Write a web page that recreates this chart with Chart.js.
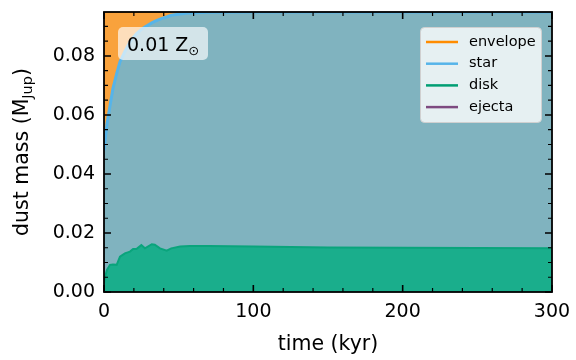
<!DOCTYPE html>
<html>
<head>
<meta charset="utf-8">
<script src="https://cdn.jsdelivr.net/npm/chart.js@4"></script>
<style>
  body { margin: 0; background: #fff; }
</style>
</head>
<body>
<canvas id="massChart" width="576" height="360"></canvas>
<script>
// time grid (kyr) and the dust mass per component (M_Jup)
const times    = [0, 0.7, 2, 4, 6, 8.5, 10.7, 14, 17.4, 19.5, 21.7, 25, 27.4, 32, 34, 37.5, 42, 45, 51, 57.5, 70, 100, 150, 200, 250, 300];
const diskMass = [0.0030, 0.0052, 0.0075, 0.0092, 0.0093, 0.0092, 0.0120, 0.0131, 0.0137, 0.0146, 0.0146, 0.0159, 0.0148, 0.0162, 0.0160, 0.0148, 0.0140, 0.0148, 0.0154, 0.0156, 0.0156, 0.0154, 0.0151, 0.0150, 0.0149, 0.0148];
const starMass = [0.0450, 0.0458, 0.0495, 0.0538, 0.0597, 0.0648, 0.0660, 0.0684, 0.0711, 0.0716, 0.0729, 0.0731, 0.0750, 0.0750, 0.0757, 0.0777, 0.0792, 0.0790, 0.0788, 0.0790, 0.0792, 0.0795, 0.0798, 0.0799, 0.0800, 0.0801];
const envMass  = [0.0470, 0.0440, 0.0380, 0.0320, 0.0260, 0.0210, 0.0170, 0.0135, 0.0102, 0.0088, 0.0075, 0.0060, 0.0052, 0.0038, 0.0033, 0.0025, 0.0018, 0.0012, 0.0008, 0.0004, 0.0002, 0.0001, 0.0001, 0.0001, 0.0001, 0.0001];
const ejectaMass = times.map(() => 0);

const xTicks = [0, 100, 200, 300];
const yTicks = [0, 0.02, 0.04, 0.06, 0.08];
const legendNames = ["envelope", "star", "disk", "ejecta"];
const legendColors = ["#ff8c00", "#56b4e9", "#009e73", "#7d4a80"];

const pts = arr => arr.map((v, i) => ({ x: times[i], y: v }));

// frame, inward ticks, labels, legend
const decorations = {
    id: "decorations",
    afterDraw(chart) {
        const ctx = chart.ctx;
        const a = chart.chartArea;
        const xs = chart.scales.x, ys = chart.scales.y;
        ctx.save();
        ctx.strokeStyle = "#000";

        // ticks on all four sides
        const tick = (px, len, horiz) => {
            ctx.beginPath();
            if (horiz) {
                ctx.moveTo(px, a.bottom); ctx.lineTo(px, a.bottom - len);
                ctx.moveTo(px, a.top); ctx.lineTo(px, a.top + len);
            } else {
                ctx.moveTo(a.left, px); ctx.lineTo(a.left + len, px);
                ctx.moveTo(a.right, px); ctx.lineTo(a.right - len, px);
            }
            ctx.stroke();
        };
        ctx.lineWidth = 1.2;
        for (let v = 20; v < 300; v += 20) if (v % 100) tick(xs.getPixelForValue(v), 4, true);
        for (let k = 1; k <= 18; k++) if (k % 4) tick(ys.getPixelForValue(k * 0.005), 4, false);
        ctx.lineWidth = 1.6;
        xTicks.forEach(v => tick(xs.getPixelForValue(v), 7, true));
        yTicks.forEach(v => tick(ys.getPixelForValue(v), 7, false));

        ctx.lineWidth = 1.8;
        ctx.strokeRect(a.left, a.top, a.right - a.left, a.bottom - a.top);

        // axis titles
        ctx.fillStyle = "#000";
        ctx.font = "20.5px 'DejaVu Sans'";
        ctx.textAlign = "center";
        ctx.textBaseline = "alphabetic";
        ctx.fillText("time (kyr)", (a.left + a.right) / 2, 350);

        ctx.save();
        ctx.translate(28, 152);
        ctx.rotate(-Math.PI / 2);
        const p1 = "dust mass (M", sub = "Jup", p2 = ")";
        ctx.font = "20.5px 'DejaVu Sans'";
        const w1 = ctx.measureText(p1).width, w3 = ctx.measureText(p2).width;
        ctx.font = "14.5px 'DejaVu Sans'";
        const w2 = ctx.measureText(sub).width;
        let x0 = -(w1 + w2 + w3) / 2;
        ctx.textAlign = "left";
        ctx.font = "20.5px 'DejaVu Sans'";
        ctx.fillText(p1, x0, 0);
        ctx.font = "14.5px 'DejaVu Sans'";
        ctx.fillText(sub, x0 + w1, 4);
        ctx.font = "20.5px 'DejaVu Sans'";
        ctx.fillText(p2, x0 + w1 + w2, 0);
        ctx.restore();

        // metallicity label
        ctx.fillStyle = "rgba(255,255,255,0.65)";
        ctx.beginPath();
        ctx.roundRect(118, 27, 90, 33, 5);
        ctx.fill();
        ctx.fillStyle = "#000";
        ctx.textAlign = "left";
        ctx.font = "19px 'DejaVu Sans'";
        ctx.fillText("0.01 Z", 127, 51);
        const wz = ctx.measureText("0.01 Z").width;
        ctx.font = "13px 'DejaVu Sans'";
        ctx.fillText("\u2299", 127 + wz, 55);

        // legend
        ctx.fillStyle = "rgba(255,255,255,0.8)";
        ctx.strokeStyle = "#d0d0d0";
        ctx.lineWidth = 1;
        ctx.beginPath();
        ctx.roundRect(420.5, 27.5, 121, 95, 4);
        ctx.fill();
        ctx.stroke();
        ctx.font = "14.5px 'DejaVu Sans'";
        ctx.textBaseline = "middle";
        legendNames.forEach((name, i) => {
            const y = 42 + i * 21.7;
            ctx.strokeStyle = legendColors[i];
            ctx.lineWidth = 2.5;
            ctx.beginPath();
            ctx.moveTo(426, y); ctx.lineTo(458, y);
            ctx.stroke();
            ctx.fillStyle = "#000";
            ctx.fillText(name, 469, y);
        });
        ctx.restore();
    }
};

new Chart(document.getElementById("massChart"), {
    type: "line",
    data: {
        datasets: [
            { label: "disk", data: pts(diskMass), borderColor: "#0aa47c", backgroundColor: "#1aae8c", borderWidth: 2, fill: "origin" },
            { label: "star", data: pts(starMass), borderColor: "#56b4e9", backgroundColor: "#80b3bf", borderWidth: 3, fill: "-1" },
            { label: "envelope", data: pts(envMass), borderColor: "#ff8c00", backgroundColor: "#f9a23c", borderWidth: 2, fill: "-1" },
            { label: "ejecta", data: pts(ejectaMass), borderColor: "#7d4a80", borderWidth: 0, fill: false }
        ]
    },
    options: {
        responsive: false,
        animation: false,
        elements: { point: { radius: 0 }, line: { tension: 0 } },
        layout: { padding: { top: 12, right: 24, left: 0, bottom: 0 } },
        plugins: { legend: { display: false }, tooltip: { enabled: false } },
        scales: {
            x: {
                type: "linear",
                min: 0, max: 300,
                grid: { display: false, drawTicks: false },
                border: { display: false },
                afterBuildTicks: s => { s.ticks = xTicks.map(v => ({ value: v })); },
                afterFit: s => { s.height = 68; s.paddingLeft = 0; s.paddingRight = 0; },
                ticks: { color: "#000", padding: 9, font: { family: "DejaVu Sans", size: 19 } }
            },
            y: {
                stacked: true,
                min: 0, max: 0.0949,
                grid: { display: false, drawTicks: false },
                border: { display: false },
                afterBuildTicks: s => { s.ticks = yTicks.map(v => ({ value: v })); },
                afterFit: s => { s.width = 104; s.paddingTop = 0; s.paddingBottom = 0; },
                ticks: { color: "#000", padding: 9, font: { family: "DejaVu Sans", size: 19 },
                         callback: v => v.toFixed(2) }
            }
        }
    },
    plugins: [decorations]
});
</script>
</body>
</html>
